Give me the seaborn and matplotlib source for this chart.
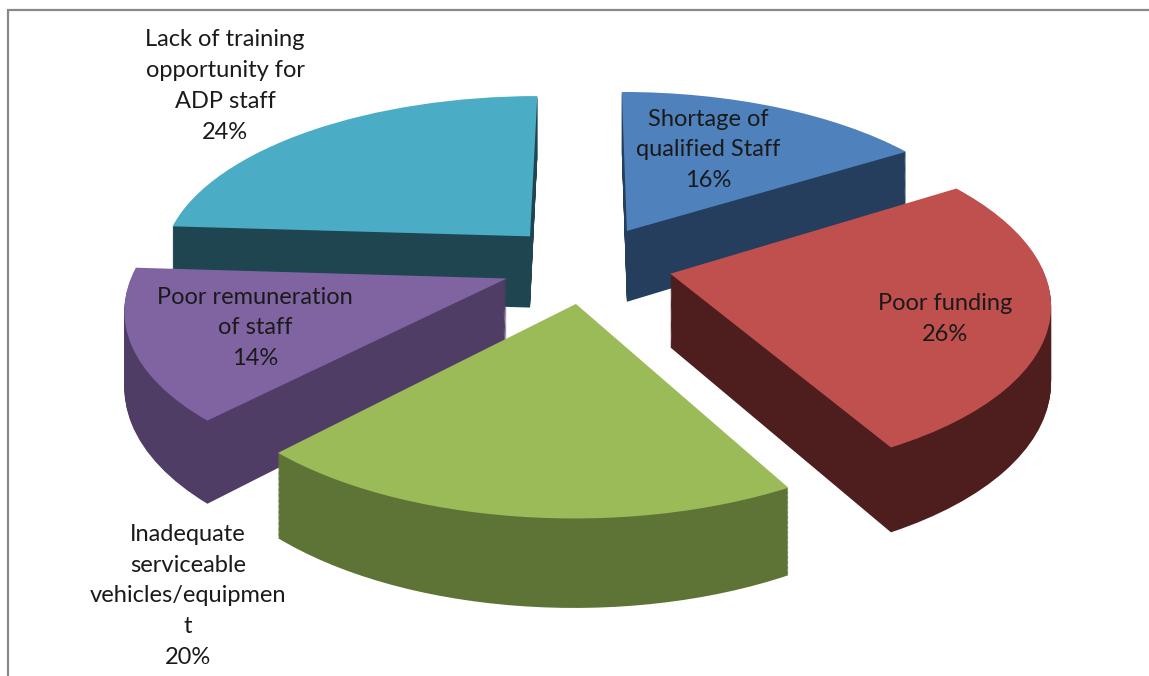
import matplotlib
matplotlib.use("Agg")
import numpy as np
import matplotlib.pyplot as plt
import seaborn as sns
from matplotlib.patches import Rectangle
from matplotlib.transforms import Transform

# data
categories = ["Shortage of\nqualified Staff", "Poor funding",
              "Inadequate\nserviceable\nvehicles/equipmen\nt",
              "Poor remuneration\nof staff",
              "Lack of training\nopportunity for\nADP staff"]
shares = [16, 26, 20, 14, 24]

top_colors = ["#4F81BD", "#C0504D", "#9BBB59", "#8064A2", "#4BACC6"]
side_colors = ["#253E5E", "#4E1E1E", "#5E7436", "#4F3D66", "#1F4550"]
# back-to-front drawing rank of each slice
draw_rank = [1, 3, 4, 2, 0]
# label anchors (pixels from pie centre)
label_xy = [(121, 114), (358, -55), (-399, -332), (-332, -64), (-362, 178)]


class Tilt(Transform):
    """Tilted-disc projection of the flat pie, z lifts the layer."""
    input_dims = 2
    output_dims = 2
    is_separable = False

    def __init__(self, z, rx=371.0, ry=169.0, k=0.15):
        super().__init__()
        self.z, self.rx, self.ry, self.k = z, rx, ry, k

    def transform_non_affine(self, values):
        values = np.asarray(values, dtype=float)
        u, v = values[:, 0], values[:, 1]
        s = 1.0 / (1.0 + self.k * v)
        return np.column_stack([u * self.rx * s, (v * self.ry + self.z) * s])


sns.set_theme(style="white")
plt.rcParams["font.family"] = ["Lato", "DejaVu Sans"]

fig = plt.figure(figsize=(11.49, 6.76), dpi=100)
ax = fig.add_axes([0, 0, 1, 1])

explode = [0.23] * len(shares)
depth = 73
n_layers = 70

for k in range(n_layers + 1):
    z = -depth * (1 - k / n_layers)
    last = k == n_layers
    wedges, _ = ax.pie(shares, explode=explode, startangle=90, counterclock=False,
                       colors=top_colors if last else side_colors,
                       radius=1, wedgeprops=dict(linewidth=0))
    tr = Tilt(z) + ax.transData
    for i, w in enumerate(wedges):
        w.set_transform(tr)
        w.set_zorder(draw_rank[i] * 1000 + k + 1)

for i, cat in enumerate(categories):
    ax.text(label_xy[i][0], label_xy[i][1], f"{cat}\n{shares[i]}%",
            ha="center", va="center", fontsize=17, color="#1a1a1a",
            linespacing=1.57, zorder=10000)

ax.set_aspect("auto")
ax.set_xlim(-587, 562)
ax.set_ylim(-412, 264)
ax.axis("off")

# chart frame (left and top edges visible)
fig.add_artist(Rectangle((8 / 1149, -0.2), 1.2, 1.2 - 10 / 676,
                         transform=fig.transFigure, fill=False,
                         edgecolor="#898989", linewidth=1.6))

fig.savefig("out.png", dpi=100)
